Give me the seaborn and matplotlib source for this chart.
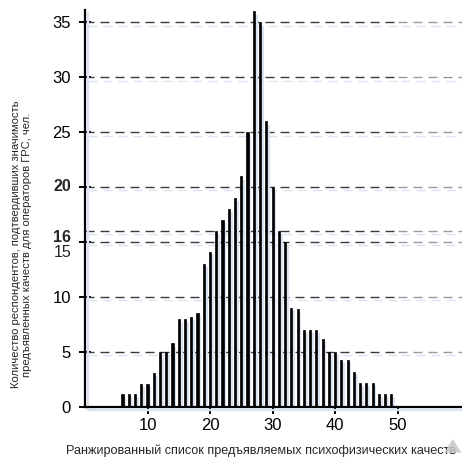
import matplotlib
matplotlib.use('Agg')
import matplotlib.pyplot as plt
import matplotlib.patheffects as pe
from matplotlib.patches import Polygon
import seaborn as sns

# ранги качеств и число респондентов
ranks = list(range(6, 50))
counts = [1.2, 1.2, 1.2, 2.1, 2.1, 3.1, 5, 5, 5.8, 8, 8, 8.2, 8.6, 13, 14.1,
          16, 17, 18, 19, 21, 25, 36, 35, 26, 20, 16, 15, 9, 8.9, 7, 7, 7,
          6.2, 5, 5, 4.3, 4.3, 3.2, 2.2, 2.2, 2.2, 1.2, 1.2, 1.2]

grid_levels = [5, 10, 15, 16, 20, 25, 30, 35]
y_ticks = [0, 5, 10, 15, 20, 25, 30, 35]
x_ticks = [10, 20, 30, 40, 50]

ylabel = ('Количество респондентов, подтвердивших значимость\n'
          'предъявленных качеств для операторов ГРС, чел.')
xlabel = 'Ранжированный список предъявляемых психофизических качеств'

sns.set_style('white')
plt.rcParams['font.family'] = ['Liberation Sans', 'DejaVu Sans']

fig = plt.figure(figsize=(4.62, 4.61), dpi=100)
ax = fig.add_axes([0.184, 0.117, 0.816, 0.861])

shadow_col = '#d9e3f1'
line_fx = [pe.SimpleLineShadow(offset=(2.2, -2.4), shadow_color=shadow_col, alpha=1.0), pe.Normal()]
patch_fx = [pe.SimplePatchShadow(offset=(2.0, -2.4), shadow_rgbFace=shadow_col, alpha=1.0), pe.Normal()]

# пунктирные уровни
dash = (0, (6.5, 4.3))
ax.hlines(grid_levels, 0, 50, colors='#3c3c3c', linestyles=dash, lw=1.0,
          zorder=1, path_effects=line_fx)
ax.hlines(grid_levels, 50, 61, colors='#9a9a9a', linestyles=dash, lw=1.0,
          zorder=1, path_effects=line_fx)

sns.barplot(x=ranks, y=counts, native_scale=True, width=0.34, color='black',
            saturation=1, errorbar=None, ax=ax, zorder=3)
for p in ax.patches:
    p.set_facecolor('black')
    p.set_edgecolor('black')
    p.set_linewidth(0.5)
    p.set_path_effects(patch_fx)

ax.set_xlim(0, 60.3)
ax.set_ylim(0, 36.1)

sns.despine(ax=ax)
for s in ['left', 'bottom']:
    ax.spines[s].set_color('black')
    ax.spines[s].set_linewidth(1.6)
    ax.spines[s].set_path_effects(line_fx)
    ax.spines[s].set_zorder(4)

ax.set_yticks(y_ticks)
ax.set_yticklabels(['' if v in (15, 20) else str(v) for v in y_ticks])
ax.set_xticks(x_ticks)
ax.set_xticklabels([str(v) for v in x_ticks])
ax.tick_params(axis='y', direction='inout', length=8, width=1.4, pad=6,
               labelsize=12, colors='black', left=True)
ax.tick_params(axis='x', direction='out', length=5, width=1.4, pad=3,
               labelsize=12, colors='black', bottom=True)

# подписи 15, 16, 20 вручную (16 и 20 выделены)
for val, dy, wt in [(15, -7.4, 'normal'), (16, -4.4, 'bold'), (20, 0.4, 'bold')]:
    ax.annotate(str(val), xy=(0, val), xycoords=('axes fraction', 'data'),
                xytext=(-10, dy), textcoords='offset points',
                ha='right', va='center', fontsize=11.5, fontweight=wt)

ax.set_ylabel(ylabel, fontsize=8.1, linespacing=1.1)
ax.yaxis.set_label_coords(-0.14, 0.41)
ax.set_xlabel(xlabel, fontsize=9.1)
ax.xaxis.set_label_coords(0.467, -0.095)

# серый треугольник в правом нижнем углу
fig.add_artist(Polygon([[0.962, 0.018], [0.999, 0.018], [0.980, 0.048]],
                       closed=True, transform=fig.transFigure,
                       facecolor='#c8c8c8', edgecolor='none', alpha=0.85))

fig.savefig('out.png', dpi=100)
